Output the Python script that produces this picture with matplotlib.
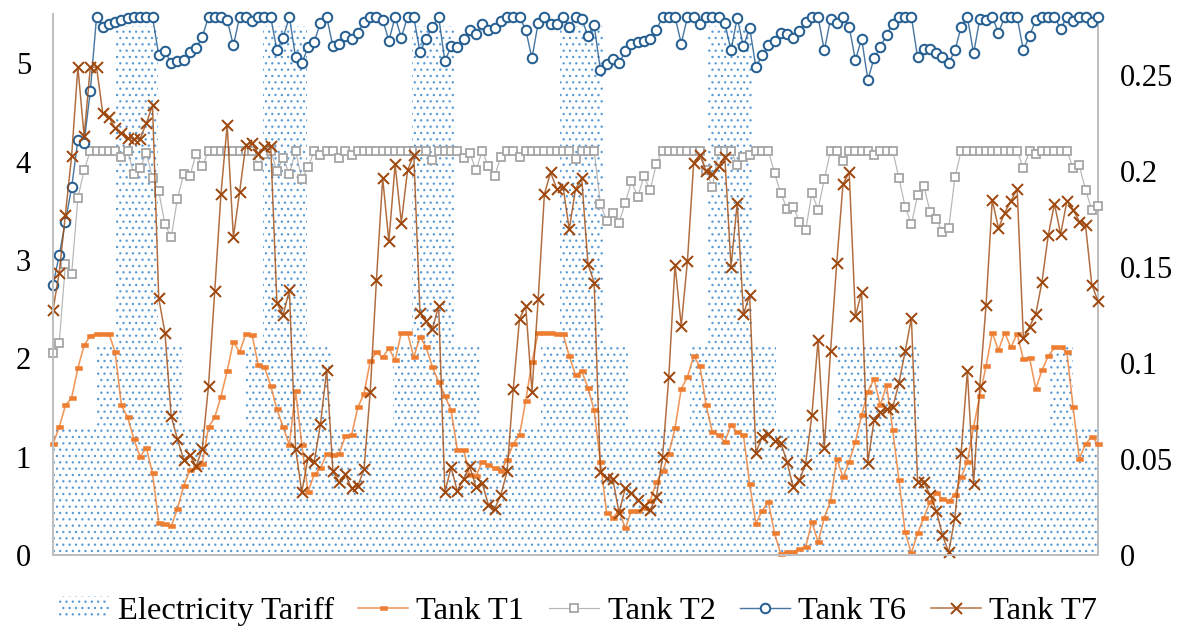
import numpy as np
import matplotlib
matplotlib.use("Agg")
import matplotlib.pyplot as plt
from matplotlib.patches import Patch
from matplotlib.colors import to_rgba

# ---------------- data ----------------
series_names = ["Electricity Tariff", "Tank T1", "Tank T2", "Tank T6", "Tank T7"]

tariff = [
    0.066, 0.066, 0.066, 0.066, 0.066, 0.066, 0.066, 0.109, 0.109, 0.109, 0.276, 0.276, 0.276, 0.276, 0.276, 0.276, 0.276, 0.109, 0.109, 0.109, 0.109, 0.066, 0.066, 0.066,
    0.066, 0.066, 0.066, 0.066, 0.066, 0.066, 0.066, 0.109, 0.109, 0.109, 0.276, 0.276, 0.276, 0.276, 0.276, 0.276, 0.276, 0.109, 0.109, 0.109, 0.109, 0.066, 0.066, 0.066,
    0.066, 0.066, 0.066, 0.066, 0.066, 0.066, 0.066, 0.109, 0.109, 0.109, 0.276, 0.276, 0.276, 0.276, 0.276, 0.276, 0.276, 0.109, 0.109, 0.109, 0.109, 0.066, 0.066, 0.066,
    0.066, 0.066, 0.066, 0.066, 0.066, 0.066, 0.066, 0.109, 0.109, 0.109, 0.276, 0.276, 0.276, 0.276, 0.276, 0.276, 0.276, 0.109, 0.109, 0.109, 0.109, 0.066, 0.066, 0.066,
    0.066, 0.066, 0.066, 0.066, 0.066, 0.066, 0.066, 0.109, 0.109, 0.109, 0.276, 0.276, 0.276, 0.276, 0.276, 0.276, 0.276, 0.109, 0.109, 0.109, 0.109, 0.066, 0.066, 0.066,
    0.066, 0.066, 0.066, 0.066, 0.066, 0.066, 0.066, 0.109, 0.109, 0.109, 0.109, 0.109, 0.109, 0.109, 0.109, 0.109, 0.109, 0.109, 0.109, 0.109, 0.066, 0.066, 0.066, 0.066,
    0.066, 0.066, 0.066, 0.066, 0.066, 0.066, 0.066, 0.066, 0.066, 0.066, 0.066, 0.066, 0.066, 0.066, 0.066, 0.066, 0.066, 0.109, 0.109, 0.109, 0.109, 0.066, 0.066, 0.066,
    0.066,
]

tank_t1 = [
    1.13, 1.30, 1.52, 1.60, 1.90, 2.13, 2.23, 2.25, 2.25, 2.25, 2.06, 1.52, 1.40, 1.18, 1.00, 1.09, 0.83, 0.33, 0.32, 0.29, 0.47, 0.70, 0.86, 0.89,
    0.93, 1.30, 1.40, 1.61, 1.87, 2.17, 2.06, 2.25, 2.24, 1.93, 1.91, 1.72, 1.48, 1.30, 1.12, 1.67, 1.12, 0.64, 0.82, 0.88, 1.03, 1.02, 1.03, 1.21,
    1.22, 1.50, 1.64, 1.97, 2.06, 2.01, 2.10, 1.98, 2.26, 2.26, 2.01, 2.22, 2.11, 1.91, 1.76, 1.62, 1.47, 1.07, 1.07, 0.81, 0.80, 0.95, 0.91, 0.88,
    0.85, 0.97, 1.13, 1.22, 1.57, 1.96, 2.26, 2.26, 2.26, 2.25, 2.25, 2.02, 1.83, 1.87, 1.70, 1.47, 0.95, 0.43, 0.38, 0.45, 0.27, 0.45, 0.45, 0.48,
    0.55, 0.74, 0.85, 1.03, 1.29, 1.69, 1.81, 2.02, 1.92, 1.52, 1.25, 1.22, 1.15, 1.32, 1.25, 1.22, 0.72, 0.32, 0.45, 0.54, 0.22, 0.01, 0.03, 0.03,
    0.06, 0.08, 0.34, 0.13, 0.38, 0.55, 0.98, 0.79, 0.95, 1.15, 1.42, 1.66, 1.79, 1.52, 1.73, 1.27, 0.76, 0.23, 0.02, 0.22, 0.38, 0.54, 0.63, 0.57,
    0.55, 0.61, 0.79, 0.95, 1.30, 1.62, 1.92, 2.26, 2.08, 2.26, 2.11, 2.25, 1.99, 2.00, 1.69, 1.88, 2.02, 2.11, 2.11, 2.06, 1.50, 0.98, 1.13, 1.20,
    1.13,
]

tank_t2 = [
    2.05, 2.16, 2.96, 2.86, 3.63, 3.91, 4.11, 4.11, 4.11, 4.11, 4.11, 4.05, 4.11, 3.87, 3.93, 4.09, 3.83, 3.70, 3.36, 3.23, 3.62, 3.87, 3.85, 4.08,
    3.95, 4.11, 4.11, 4.11, 4.11, 4.11, 4.11, 4.11, 4.11, 3.95, 4.08, 4.11, 3.90, 4.04, 3.87, 4.11, 3.82, 3.94, 4.11, 4.07, 4.11, 4.11, 4.04, 4.11,
    4.07, 4.11, 4.11, 4.11, 4.11, 4.11, 4.11, 4.11, 4.11, 4.11, 4.11, 4.11, 4.11, 4.02, 4.11, 4.11, 4.11, 4.11, 4.04, 4.09, 3.91, 4.11, 3.95, 3.85,
    4.05, 4.11, 4.11, 4.05, 4.11, 4.11, 4.11, 4.11, 4.11, 4.11, 4.11, 4.11, 4.03, 4.11, 4.11, 4.11, 3.57, 3.40, 3.48, 3.38, 3.58, 3.80, 3.64, 3.85,
    3.71, 3.98, 4.11, 4.11, 4.11, 4.11, 4.11, 4.11, 4.11, 3.91, 3.74, 4.11, 4.11, 4.11, 3.96, 4.05, 4.07, 4.11, 4.11, 4.11, 3.88, 3.68, 3.52, 3.54,
    3.39, 3.30, 3.68, 3.51, 3.82, 4.11, 4.11, 4.01, 4.11, 4.11, 4.11, 4.11, 4.07, 4.11, 4.11, 4.11, 3.83, 3.54, 3.36, 3.66, 3.75, 3.49, 3.42, 3.28,
    3.32, 3.84, 4.11, 4.11, 4.11, 4.11, 4.11, 4.11, 4.11, 4.11, 4.11, 4.11, 3.93, 4.11, 4.08, 4.11, 4.11, 4.11, 4.11, 4.11, 3.93, 3.96, 3.71, 3.51,
    3.55,
]

tank_t6 = [
    2.74, 3.05, 3.39, 3.74, 4.22, 4.19, 4.72, 5.47, 5.37, 5.40, 5.42, 5.44, 5.46, 5.47, 5.47, 5.47, 5.47, 5.08, 5.12, 5.00, 5.02, 5.03, 5.11, 5.15,
    5.27, 5.47, 5.47, 5.47, 5.44, 5.18, 5.47, 5.47, 5.43, 5.47, 5.47, 5.47, 5.13, 5.26, 5.47, 5.06, 5.00, 5.16, 5.22, 5.41, 5.47, 5.17, 5.19, 5.28,
    5.25, 5.31, 5.42, 5.47, 5.47, 5.44, 5.23, 5.47, 5.26, 5.47, 5.47, 5.11, 5.25, 5.37, 5.47, 5.02, 5.17, 5.16, 5.25, 5.34, 5.30, 5.40, 5.34, 5.36,
    5.43, 5.47, 5.47, 5.47, 5.34, 5.05, 5.41, 5.47, 5.40, 5.40, 5.47, 5.37, 5.47, 5.45, 5.28, 5.39, 4.93, 4.99, 5.04, 5.00, 5.12, 5.20, 5.22, 5.23,
    5.25, 5.34, 5.47, 5.47, 5.47, 5.20, 5.47, 5.47, 5.40, 5.47, 5.47, 5.47, 5.41, 5.13, 5.46, 5.17, 5.36, 4.96, 5.08, 5.18, 5.23, 5.31, 5.30, 5.26,
    5.33, 5.42, 5.47, 5.47, 5.13, 5.45, 5.41, 5.47, 5.37, 5.03, 5.25, 4.83, 5.05, 5.16, 5.29, 5.40, 5.47, 5.47, 5.47, 5.06, 5.14, 5.14, 5.10, 5.06,
    5.00, 5.13, 5.37, 5.47, 5.10, 5.45, 5.44, 5.47, 5.31, 5.47, 5.47, 5.47, 5.13, 5.28, 5.44, 5.47, 5.47, 5.47, 5.35, 5.47, 5.43, 5.47, 5.47, 5.42,
    5.47,
]

tank_t7 = [
    2.49, 2.87, 3.46, 4.06, 4.96, 4.26, 4.96, 4.96, 4.49, 4.45, 4.34, 4.29, 4.24, 4.23, 4.23, 4.39, 4.57, 2.61, 2.26, 1.41, 1.18, 0.97, 1.02, 0.90,
    1.08, 1.72, 2.68, 3.67, 4.37, 3.23, 3.69, 4.17, 4.19, 4.08, 4.15, 4.16, 2.56, 2.44, 2.69, 1.08, 0.64, 0.99, 0.95, 1.33, 1.88, 0.85, 0.74, 0.82,
    0.68, 0.70, 0.87, 1.66, 2.80, 3.83, 3.19, 3.97, 3.38, 3.91, 4.07, 2.46, 2.38, 2.30, 2.53, 0.64, 0.89, 0.65, 0.77, 0.90, 0.69, 0.73, 0.51, 0.47,
    0.61, 0.85, 1.69, 2.40, 2.53, 1.66, 2.60, 3.67, 3.89, 3.72, 3.74, 3.31, 3.72, 3.83, 2.96, 2.77, 0.84, 0.78, 0.77, 0.43, 0.68, 0.63, 0.56, 0.50,
    0.46, 0.59, 1.00, 1.81, 2.95, 2.33, 2.99, 3.99, 4.07, 3.90, 3.87, 3.95, 4.05, 2.93, 3.58, 2.45, 2.64, 1.04, 1.20, 1.23, 1.16, 1.14, 0.95, 0.69,
    0.76, 0.93, 1.42, 2.19, 1.09, 2.07, 2.97, 3.77, 3.89, 2.43, 2.67, 0.94, 1.37, 1.45, 1.48, 1.50, 1.75, 2.07, 2.41, 0.74, 0.74, 0.61, 0.45, 0.20,
    0.03, 0.38, 1.04, 1.87, 0.72, 1.72, 2.54, 3.61, 3.32, 3.48, 3.60, 3.72, 2.21, 2.32, 2.45, 2.78, 3.25, 3.57, 3.26, 3.60, 3.51, 3.39, 3.35, 2.75,
    2.58,
]

left_ticks = [0, 1, 2, 3, 4, 5]
left_labels = ["0", "1", "2", "3", "4", "5"]
right_ticks = [0, 0.05, 0.1, 0.15, 0.2, 0.25]
right_labels = ["0", "0.05", "0.1", "0.15", "0.2", "0.25"]

# ---------------- styling ----------------
W, H, DPI = 1195, 641, 76


def pt(px):
    return px * 72.0 / DPI


BLUE = "#5B9BD5"
ORANGE = "#ED7D31"
GRAY = "#A5A5A5"
DBLUE = "#255E91"
BROWN = "#9E480E"
AXIS = "#BFBFBF"
FS = pt(30.5)
LFS = pt(32.5)

plt.rcParams["font.family"] = ["Liberation Serif", "DejaVu Serif"]
plt.rcParams["hatch.linewidth"] = pt(1.1)

fig = plt.figure(figsize=(W / DPI, H / DPI), dpi=DPI)
rect = [53 / W, 1 - 555 / H, 1045 / W, 541 / H]

# tariff axes (secondary, right side)
axT = fig.add_axes(rect)
edges = np.arange(len(tariff) + 1)
axT.fill_between(edges, tariff + [tariff[-1]], step="post", facecolor="none",
                 edgecolor=BLUE, hatch="..", linewidth=0)
axT.set_xlim(0, len(tariff))
axT.set_ylim(0, 0.282)
axT.yaxis.tick_right()
axT.set_yticks(right_ticks)
axT.set_yticklabels(right_labels)
axT.tick_params(axis="y", length=0, pad=pt(22), labelsize=FS)
axT.set_xticks([])
for s in ["left", "top", "bottom"]:
    axT.spines[s].set_visible(False)
axT.spines["right"].set_color(AXIS)
axT.spines["right"].set_linewidth(pt(2))

# tanks axes (primary, left side)
ax = fig.add_axes(rect)
ax.patch.set_visible(False)
x = np.arange(len(tank_t1))
rect_marker = [(-1, -0.6), (1, -0.6), (1, 0.6), (-1, 0.6), (-1, -0.6)]
l1, = ax.plot(x, tank_t1, color=to_rgba(ORANGE, 0.8), lw=pt(1.6), marker=rect_marker,
              ms=pt(7), mfc=ORANGE, mec=ORANGE, mew=pt(0.5), clip_on=False)
l2, = ax.plot(x, tank_t2, color=to_rgba(GRAY, 0.8), lw=pt(1.2), marker="s",
              ms=pt(8), mfc="white", mec=GRAY, mew=pt(1.8), clip_on=False)
l6, = ax.plot(x, tank_t6, color=to_rgba(DBLUE, 0.85), lw=pt(1.4), marker="o",
              ms=pt(9.5), mfc="white", mec=DBLUE, mew=pt(2), clip_on=False)
l7, = ax.plot(x, tank_t7, color=to_rgba(BROWN, 0.8), lw=pt(1.5), marker="x",
              ms=pt(11), mec=BROWN, mew=pt(2), clip_on=False)
ax.set_xlim(0, len(tank_t1) - 1)
ax.set_ylim(0, 5.5)
ax.set_yticks(left_ticks)
ax.set_yticklabels(left_labels)
ax.tick_params(axis="y", length=0, pad=pt(22), labelsize=FS)
ax.set_xticks([])
for s in ["top", "right"]:
    ax.spines[s].set_visible(False)
for s in ["left", "bottom"]:
    ax.spines[s].set_color(AXIS)
    ax.spines[s].set_linewidth(pt(2))

tariff_handle = Patch(facecolor="none", edgecolor=BLUE, hatch="..", linewidth=0)
fig.legend([tariff_handle, l1, l2, l6, l7], series_names, loc="center",
           bbox_to_anchor=(578 / W, 1 - 611 / H), ncol=5, frameon=False,
           fontsize=LFS, handlelength=1.55, handleheight=0.65,
           handletextpad=0.25, columnspacing=0.75)

fig.savefig("out.png", dpi=DPI)
